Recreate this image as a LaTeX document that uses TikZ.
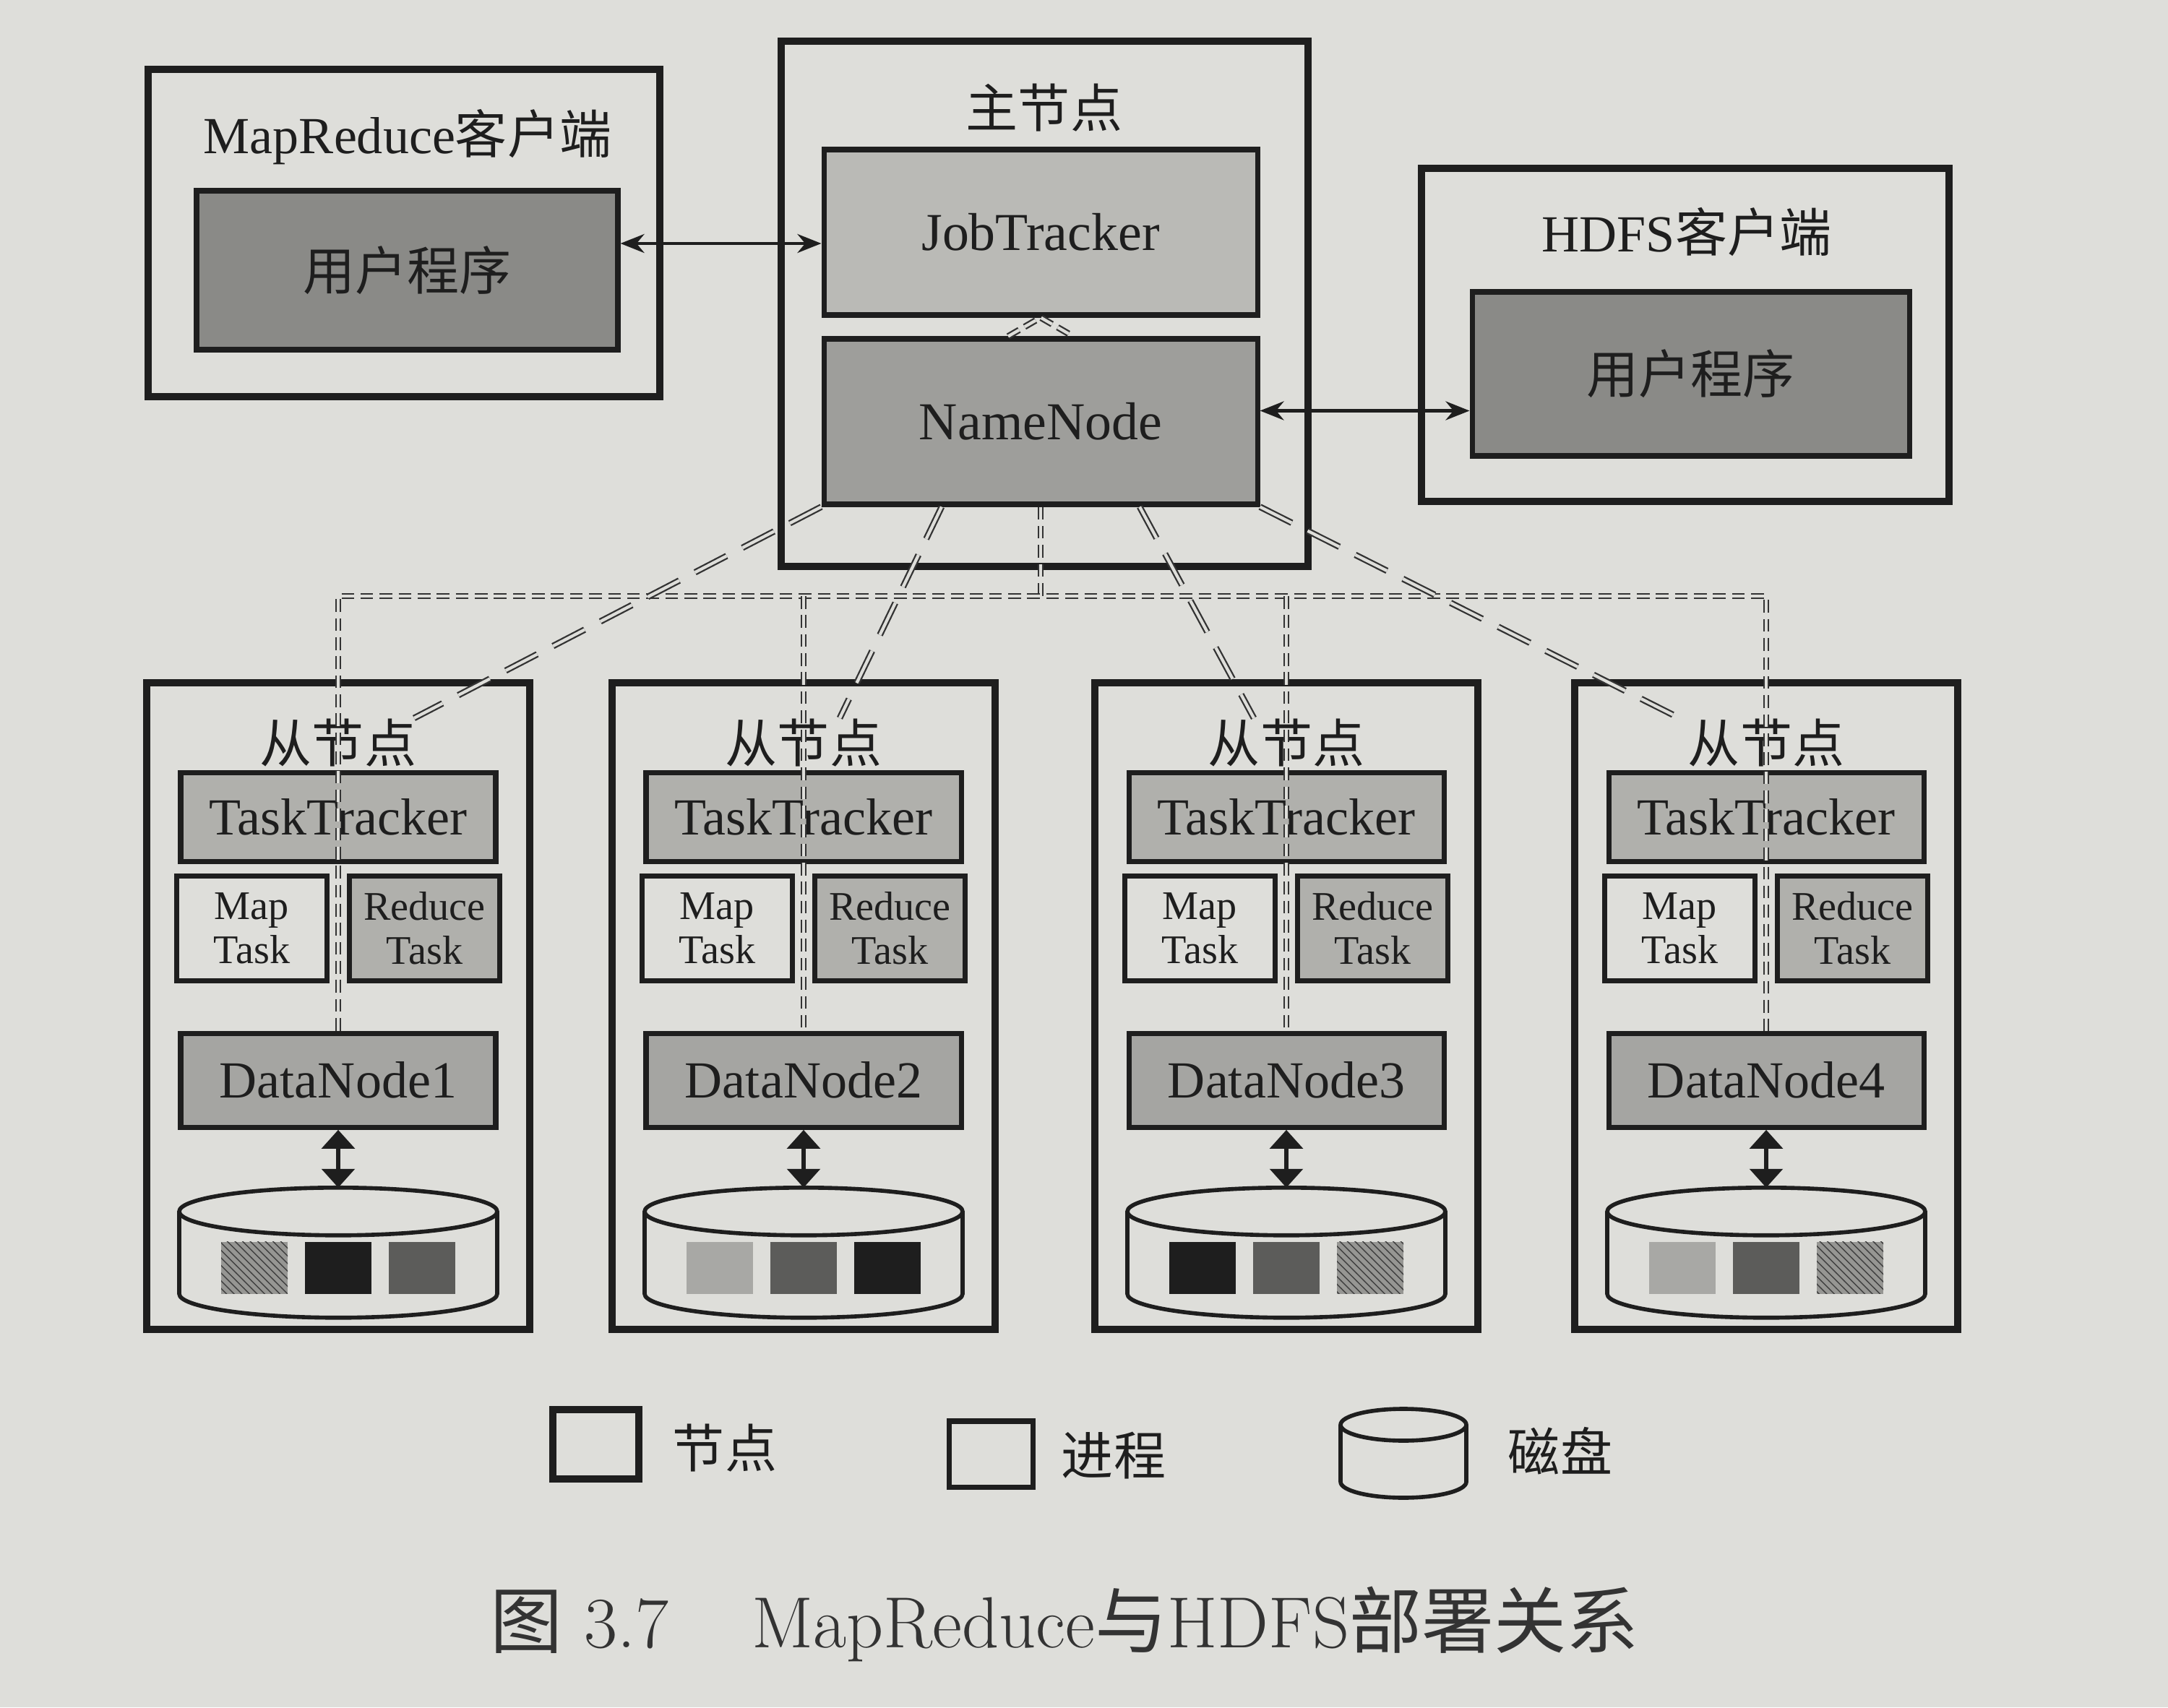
\documentclass[tikz,border=0pt]{standalone}
\usepackage{fontspec}
\usepackage{tikz}
\usetikzlibrary{positioning}
\usetikzlibrary{arrows.meta}
\usetikzlibrary{patterns}
\newfontfamily\cjk{Noto Sans CJK SC}
\newfontfamily\serifen{Liberation Serif}
\definecolor{paper}{RGB}{222,222,218}
\definecolor{ink}{RGB}{30,30,30}
\definecolor{jobgray}{RGB}{186,186,182}
\definecolor{namegray}{RGB}{158,158,155}
\definecolor{proggray}{RGB}{138,138,135}
\definecolor{taskgray}{RGB}{176,176,172}
\definecolor{datagray}{RGB}{165,165,162}
\definecolor{lightblk}{RGB}{168,168,165}
\definecolor{darkblk}{RGB}{92,92,90}
\definecolor{hatchblk}{RGB}{150,150,147}

\begin{document}
\begin{tikzpicture}[
			hostbox/.style={rectangle, draw=ink, line width=3pt, fill=paper, inner sep=0pt},
			procbox/.style={rectangle, draw=ink, line width=2pt, inner sep=1pt, text=ink, font=\fontsize{20.5}{24}\selectfont\serifen},
			jobbox/.style={procbox, fill=jobgray, minimum width=6cm, minimum height=2.29cm, font=\fontsize{21}{25}\selectfont\serifen},
			namebox/.style={procbox, fill=namegray, minimum width=6cm, minimum height=2.29cm, font=\fontsize{21}{25}\selectfont\serifen},
			progbox/.style={procbox, fill=proggray, font=\fontsize{20.5}{24}\selectfont\cjk},
			taskbox/.style={procbox, fill=taskgray, minimum width=4.36cm, minimum height=1.23cm},
			mapbox/.style={procbox, fill=paper, minimum width=2.08cm, minimum height=1.45cm, align=center, font=\fontsize{16}{17.5}\selectfont\serifen},
			reducebox/.style={mapbox, fill=taskgray},
			databox/.style={procbox, fill=datagray, minimum width=4.36cm, minimum height=1.30cm},
			cnlabel/.style={inner sep=0pt, text=ink, font=\fontsize{20.5}{24}\selectfont\cjk},
			mixlabel/.style={inner sep=0pt, text=ink, font=\fontsize{20.5}{24}\selectfont\serifen},
			blk/.style={rectangle, minimum width=0.92cm, minimum height=0.72cm, inner sep=0pt},
			blkA/.style={blk, fill=lightblk},
			blkB/.style={blk, fill=darkblk},
			blkC/.style={blk, fill=ink},
			blkD/.style={blk, fill=hatchblk, postaction={pattern=north west lines, pattern color=black!75}},
			diskline/.style={draw=ink, line width=1.6pt},
			busline/.style={draw=black!80, line width=0.65pt, double=paper, double distance=1.2pt, dash pattern=on 5pt off 2.5pt},
			fanline/.style={busline, dash pattern=on 14pt off 7pt},
			biarrow/.style={{Stealth[length=3.3mm, width=2.6mm]}-{Stealth[length=3.3mm, width=2.6mm]}, draw=ink, line width=1.4pt},
			diskarrow/.style={{Triangle[length=2.6mm, width=4.5mm]}-{Triangle[length=2.6mm, width=4.5mm]}, draw=ink, line width=1.8pt},
			]
			\fill[paper] (0,0) rectangle (30,23.63);
			\useasboundingbox (0,0) rectangle (30,23.63);
			
			%Clients and master
			\node[hostbox, minimum width=7.08cm, minimum height=4.53cm] (MRClient) at (5.59,20.405) {};
			\node[mixlabel] (MRClientLbl) at (5.64,21.73) {MapReduce{\cjk 客户端}};
			\node[progbox, minimum width=5.83cm, minimum height=2.2cm] (MRProg) at (5.635,19.89) {用户程序};
			
			\node[hostbox, minimum width=7.29cm, minimum height=7.27cm] (Master) at (14.455,19.425) {};
			\node[cnlabel] (MasterLbl) at (14.45,22.14) {主节点};
			\node[jobbox] (JobTracker) at (14.40,20.415) {JobTracker};
			\node[namebox] (NameNode) at (14.40,17.795) {NameNode};
			
			\node[hostbox, minimum width=7.3cm, minimum height=4.61cm] (HDFSClient) at (23.32,18.995) {};
			\node[mixlabel] (HDFSClientLbl) at (23.34,20.42) {HDFS{\cjk 客户端}};
			\node[progbox, minimum width=6.05cm, minimum height=2.27cm] (HDFSProg) at (23.395,18.455) {用户程序};
			
			%Slave 1
			\node[hostbox, minimum width=5.3cm, minimum height=8.95cm] (Slave1) at (4.68,9.705) {};
			\node[cnlabel, yshift=-0.88cm] (Lbl1) at (Slave1.north) {从节点};
			\node[taskbox] (TT1) [below=1.26cm of Slave1.north] {TaskTracker};
			\node[mapbox] (MT1) [below left=0.13cm and 0.12cm of TT1.south] {Map\\Task};
			\node[reducebox] (RT1) [below right=0.13cm and 0.12cm of TT1.south] {Reduce\\Task};
			\node[databox] (DN1) [below=2.31cm of TT1.south] {DataNode1};
			\coordinate[below=0.8cm of DN1.south] (Disk1);
			\draw[diskline, fill=paper] ([yshift=-3.3mm]Disk1) ellipse (2.2cm and 3.3mm);
			\draw[diskline] ([shift={(-2.2,-0.33)}]Disk1) -- ++(0,-1.14) arc[start angle=180, end angle=360, x radius=2.2cm, y radius=0.33cm] -- ++(0,1.14);
			\node[blkD] (B11) [below=0.74cm of Disk1, xshift=-1.16cm] {};
			\node[blkC] (B12) [below=0.74cm of Disk1] {};
			\node[blkB] (B13) [below=0.74cm of Disk1, xshift=1.16cm] {};
			
			%Slave 2
			\node[hostbox, minimum width=5.3cm, minimum height=8.95cm] (Slave2) at (11.12,9.705) {};
			\node[cnlabel, yshift=-0.88cm] (Lbl2) at (Slave2.north) {从节点};
			\node[taskbox] (TT2) [below=1.26cm of Slave2.north] {TaskTracker};
			\node[mapbox] (MT2) [below left=0.13cm and 0.12cm of TT2.south] {Map\\Task};
			\node[reducebox] (RT2) [below right=0.13cm and 0.12cm of TT2.south] {Reduce\\Task};
			\node[databox] (DN2) [below=2.31cm of TT2.south] {DataNode2};
			\coordinate[below=0.8cm of DN2.south] (Disk2);
			\draw[diskline, fill=paper] ([yshift=-3.3mm]Disk2) ellipse (2.2cm and 3.3mm);
			\draw[diskline] ([shift={(-2.2,-0.33)}]Disk2) -- ++(0,-1.14) arc[start angle=180, end angle=360, x radius=2.2cm, y radius=0.33cm] -- ++(0,1.14);
			\node[blkA] (B21) [below=0.74cm of Disk2, xshift=-1.16cm] {};
			\node[blkB] (B22) [below=0.74cm of Disk2] {};
			\node[blkC] (B23) [below=0.74cm of Disk2, xshift=1.16cm] {};
			
			%Slave 3
			\node[hostbox, minimum width=5.3cm, minimum height=8.95cm] (Slave3) at (17.80,9.705) {};
			\node[cnlabel, yshift=-0.88cm] (Lbl3) at (Slave3.north) {从节点};
			\node[taskbox] (TT3) [below=1.26cm of Slave3.north] {TaskTracker};
			\node[mapbox] (MT3) [below left=0.13cm and 0.12cm of TT3.south] {Map\\Task};
			\node[reducebox] (RT3) [below right=0.13cm and 0.12cm of TT3.south] {Reduce\\Task};
			\node[databox] (DN3) [below=2.31cm of TT3.south] {DataNode3};
			\coordinate[below=0.8cm of DN3.south] (Disk3);
			\draw[diskline, fill=paper] ([yshift=-3.3mm]Disk3) ellipse (2.2cm and 3.3mm);
			\draw[diskline] ([shift={(-2.2,-0.33)}]Disk3) -- ++(0,-1.14) arc[start angle=180, end angle=360, x radius=2.2cm, y radius=0.33cm] -- ++(0,1.14);
			\node[blkC] (B31) [below=0.74cm of Disk3, xshift=-1.16cm] {};
			\node[blkB] (B32) [below=0.74cm of Disk3] {};
			\node[blkD] (B33) [below=0.74cm of Disk3, xshift=1.16cm] {};
			
			%Slave 4
			\node[hostbox, minimum width=5.3cm, minimum height=8.95cm] (Slave4) at (24.44,9.705) {};
			\node[cnlabel, yshift=-0.88cm] (Lbl4) at (Slave4.north) {从节点};
			\node[taskbox] (TT4) [below=1.26cm of Slave4.north] {TaskTracker};
			\node[mapbox] (MT4) [below left=0.13cm and 0.12cm of TT4.south] {Map\\Task};
			\node[reducebox] (RT4) [below right=0.13cm and 0.12cm of TT4.south] {Reduce\\Task};
			\node[databox] (DN4) [below=2.31cm of TT4.south] {DataNode4};
			\coordinate[below=0.8cm of DN4.south] (Disk4);
			\draw[diskline, fill=paper] ([yshift=-3.3mm]Disk4) ellipse (2.2cm and 3.3mm);
			\draw[diskline] ([shift={(-2.2,-0.33)}]Disk4) -- ++(0,-1.14) arc[start angle=180, end angle=360, x radius=2.2cm, y radius=0.33cm] -- ++(0,1.14);
			\node[blkA] (B41) [below=0.74cm of Disk4, xshift=-1.16cm] {};
			\node[blkB] (B42) [below=0.74cm of Disk4] {};
			\node[blkD] (B43) [below=0.74cm of Disk4, xshift=1.16cm] {};
			
			%Legend and caption
			\node[hostbox, minimum width=1.19cm, minimum height=0.96cm] (LegNode) at (8.245,3.64) {};
			\node[cnlabel] (LegNodeTxt) at (10.03,3.59) {节点};
			\node[procbox, fill=paper, minimum width=1.16cm, minimum height=0.91cm] (LegProc) at (13.71,3.505) {};
			\node[cnlabel] (LegProcTxt) at (15.41,3.48) {进程};
			\coordinate (LegDisk) at (19.42,4.13);
			\draw[diskline, fill=paper] ([yshift=-2.2mm]LegDisk) ellipse (0.87cm and 2.2mm);
			\draw[diskline] ([shift={(-0.87,-0.22)}]LegDisk) -- ++(0,-0.79) arc[start angle=180, end angle=360, x radius=0.87cm, y radius=0.22cm] -- ++(0,0.79);
			\node[cnlabel] (LegDiskTxt) at (21.59,3.55) {磁盘};
			\node[inner sep=0pt, text=black!80, font=\fontsize{28.5}{33}\selectfont] (Caption) at (14.73,1.15) {{\cjk 图} 3.7\hspace{1.15cm}MapReduce{\cjk 与}HDFS{\cjk 部署关系}};
			
			%Lines
			\coordinate (Bus) at (14.40,15.38);
			\draw[busline] ([xshift=-4.5mm]NameNode.north) -- (JobTracker.south) -- ([xshift=4.5mm]NameNode.north);
			\draw[busline] (NameNode.south) -- (Bus);
			\draw[busline] (DN1.north) -- (DN1.north |- Bus) -- (DN4.north |- Bus) -- (DN4.north);
			\draw[busline] (DN2.north |- Bus) -- (DN2.north);
			\draw[busline] (DN3.north |- Bus) -- (DN3.north);
			
			\draw[fanline] (NameNode.south west) -- ([xshift=1.05cm]Lbl1.north);
			\draw[fanline] ([xshift=-1.37cm]NameNode.south) -- ([xshift=0.5cm]Lbl2.north);
			\draw[fanline] ([xshift=1.37cm]NameNode.south) -- ([xshift=-0.45cm]Lbl3.north);
			\draw[fanline] (NameNode.south east) -- ([xshift=-1.2cm]Lbl4.north);
			
			\draw[biarrow] ([yshift=3.7mm]MRProg.east) -- ([yshift=3.7mm]MRProg.east -| JobTracker.west);
			\draw[biarrow] ([yshift=1.5mm]NameNode.east) -- ([yshift=1.5mm]NameNode.east -| HDFSProg.west);
			
			\draw[diskarrow] (DN1.south) -- (Disk1);
			\draw[diskarrow] (DN2.south) -- (Disk2);
			\draw[diskarrow] (DN3.south) -- (Disk3);
			\draw[diskarrow] (DN4.south) -- (Disk4);
		\end{tikzpicture}
\end{document}
